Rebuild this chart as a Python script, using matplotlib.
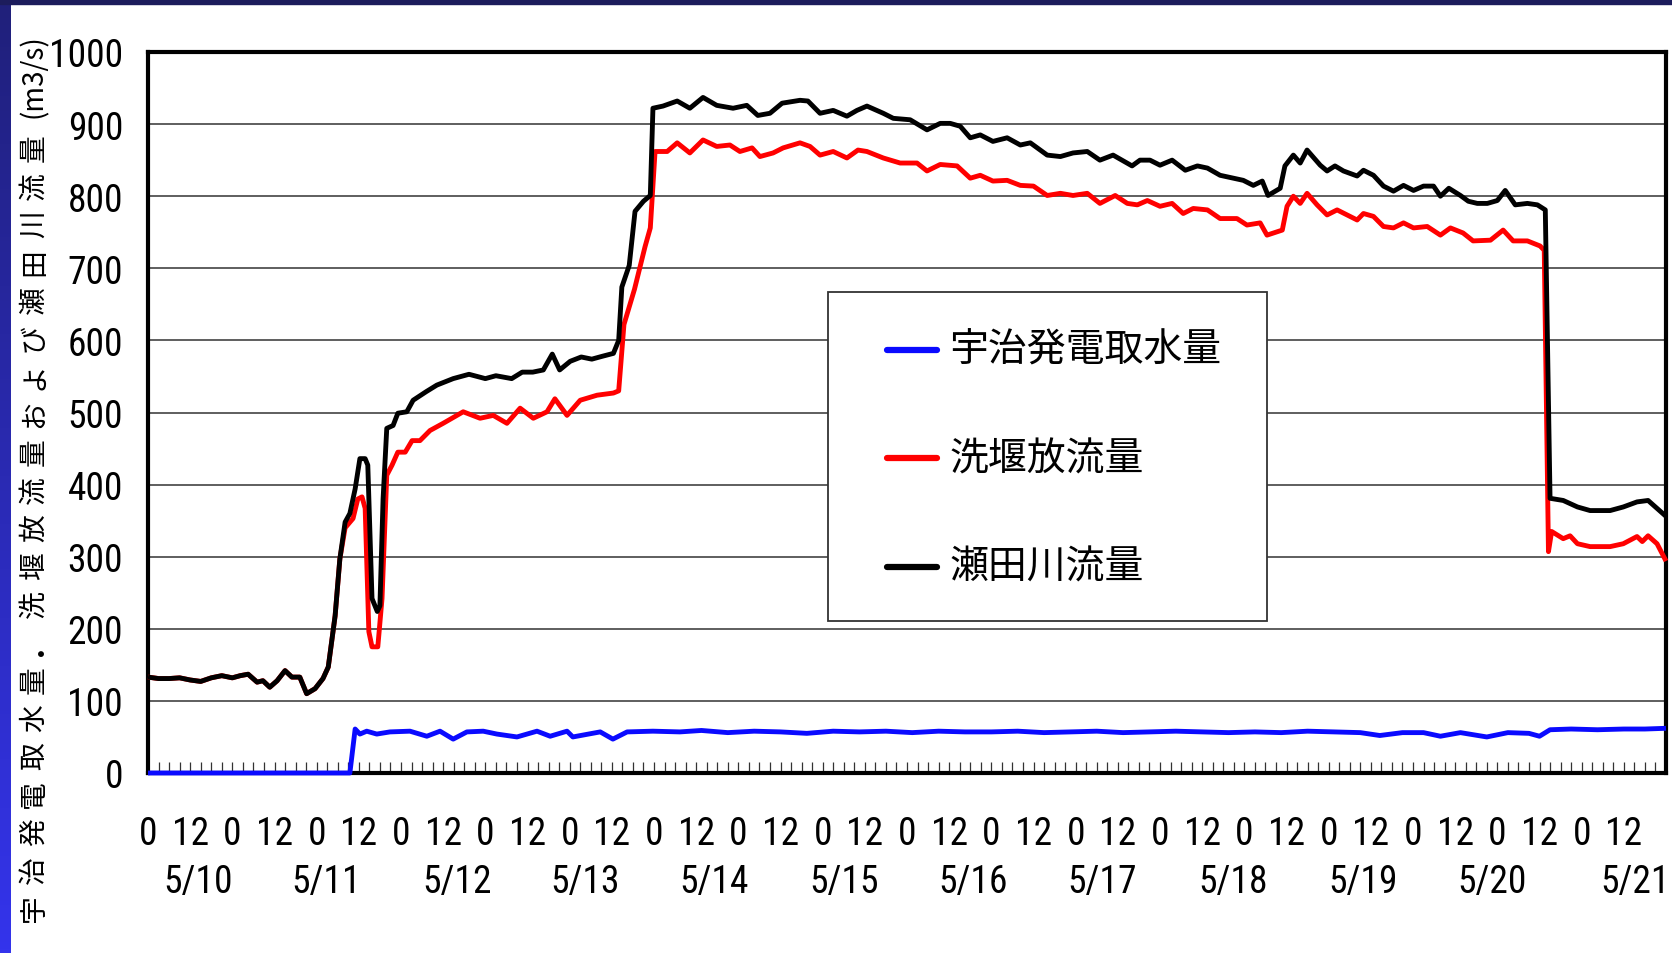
import matplotlib
matplotlib.use("Agg")
import matplotlib.pyplot as plt
import numpy as np
from matplotlib import font_manager
from matplotlib.colors import LinearSegmentedColormap
from matplotlib.lines import Line2D
from matplotlib.patches import Rectangle

# 経過時間 (5/10 0時から, h) と流量 (m3/s)
seta_h = [0, 2, 4, 6, 8, 10, 12, 14, 16, 17.5,
          19, 20.7, 21.8, 23.1, 24.5, 26, 27.3, 28.8, 30.1, 31.7,
          33.2, 34.2, 35.5, 36.4, 37.4, 38.3, 39.3, 40.2, 41.2, 41.7,
          42.5, 43.5, 44.0, 44.6, 45.3, 46.5, 47.4, 49.1, 50.3, 52.8,
          54.8, 57.9, 60.9, 64, 66, 69, 71, 73, 75, 76.7,
          78.1, 80.1, 82.2, 84.2, 86.2, 88.3, 89.3, 89.9, 91.3, 92.4,
          94.0, 95.3, 95.8, 97.7, 100.4, 102.8, 105.3, 107.9, 111.0, 113.6,
          115.7, 118.0, 120.3, 123.7, 125.2, 127.5, 130.0, 132.6, 134.5, 136.4,
          139.5, 141.4, 144.6, 147.8, 150.3, 152.2, 154.1, 156.0, 157.9, 160.3,
          163.0, 165.5, 167.4, 170.6, 173.1, 175.5, 178.2, 180.6, 183.1, 186.7,
          188.2, 190.1, 192.0, 194.3, 196.8, 199.1, 201.0, 203.4, 205.9, 207.8,
          209.7, 211.4, 212.5, 214.8, 215.7, 217.3, 218.6, 219.9, 222.4, 223.7,
          225.2, 226.8, 229.4, 230.6, 232.5, 234.4, 236.3, 238.2, 240.1, 242.0,
          243.9, 245.2, 246.8, 249.0, 250.5, 252.2, 254.1, 256.0, 257.5, 259.4,
          261.7, 263.6, 265.1, 266.0, 268.5, 271.2, 273.6, 277.4, 279.9, 282.5,
          284.6, 286.3, 288]
seta_q = [133, 131, 131, 132, 129, 127, 132, 135, 132, 135,
          137, 126, 128, 119, 128, 142, 133, 133, 110, 117,
          131, 147, 218, 297, 348, 360, 394, 436, 436, 427,
          242, 224, 232, 380, 478, 482, 499, 501, 517, 529,
          538, 547, 553, 547, 551, 547, 556, 556, 559, 581,
          559, 571, 577, 574, 578, 582, 600, 674, 704, 779,
          793, 801, 922, 925, 932, 922, 937, 926, 922, 926,
          912, 915, 929, 933, 932, 915, 919, 911, 919, 925,
          915, 908, 906, 892, 901, 901, 897, 881, 885, 876,
          881, 871, 874, 857, 855, 860, 862, 850, 857, 842,
          850, 850, 843, 850, 836, 842, 839, 829, 825, 822,
          815, 821, 801, 811, 842, 857, 846, 864, 843, 835,
          842, 835, 828, 836, 829, 814, 807, 815, 808, 814,
          814, 800, 811, 801, 793, 790, 790, 794, 808, 788,
          790, 788, 781, 381, 378, 369, 364, 364, 369, 376,
          378, 367, 356]

arai_h = [0, 2, 4, 6, 8, 10, 12, 14, 16, 17.5,
          19, 20.7, 21.8, 23.1, 24.5, 26, 27.3, 28.8, 30.1, 31.7,
          33.2, 34.2, 35.5, 36.4, 37.4, 38.9, 39.8, 40.6, 41.2, 41.9,
          42.5, 43.6, 44.4, 45.3, 46.3, 47.4, 48.8, 50.1, 51.6, 53.5,
          56.0, 59.8, 63.0, 65.5, 68.1, 70.6, 73.1, 75.7, 77.2, 79.5,
          82.0, 85.2, 88.3, 89.3, 90.3, 92.3, 94.3, 95.3, 96.2, 98.5,
          100.4, 102.8, 105.3, 107.9, 110.4, 112.3, 114.6, 116.1, 118.6, 120.5,
          123.7, 125.6, 127.5, 130.0, 132.6, 134.7, 136.4, 139.5, 142.7, 145.9,
          147.8, 150.3, 153.5, 156.0, 157.9, 160.3, 163.0, 165.5, 168.0, 170.6,
          173.1, 175.5, 178.2, 180.6, 183.5, 185.8, 187.7, 189.6, 192.0, 194.3,
          196.4, 198.3, 201.0, 203.4, 206.6, 208.5, 211.0, 212.3, 215.2, 216.1,
          217.3, 218.6, 219.9, 221.8, 223.7, 225.6, 227.5, 229.4, 230.6, 232.5,
          234.4, 236.3, 238.2, 240.1, 242.7, 245.2, 247.1, 249.5, 251.4, 254.7,
          257.1, 259.0, 261.7, 264.1, 264.9, 265.7, 266.3, 268.5, 269.8, 271.2,
          273.6, 277.4, 279.9, 282.5, 283.5, 284.6, 286.3, 288]
arai_q = [133, 131, 131, 132, 129, 127, 132, 135, 132, 135,
          137, 126, 128, 119, 128, 142, 133, 133, 110, 117,
          131, 147, 218, 297, 340, 353, 380, 383, 367, 196,
          175, 175, 242, 413, 427, 445, 445, 461, 461, 475,
          485, 501, 492, 496, 485, 506, 492, 501, 519, 496,
          517, 524, 527, 530, 622, 671, 730, 756, 862, 862,
          874, 860, 878, 869, 871, 862, 867, 855, 860, 867,
          874, 869, 857, 862, 853, 864, 862, 853, 846, 846,
          835, 844, 842, 825, 829, 821, 822, 815, 814, 801,
          804, 801, 804, 790, 801, 790, 788, 794, 786, 790,
          776, 783, 781, 769, 769, 760, 763, 746, 753, 786,
          800, 790, 804, 788, 774, 781, 774, 767, 776, 772,
          758, 756, 763, 756, 758, 746, 756, 749, 738, 739,
          753, 738, 738, 731, 725, 307, 335, 325, 329, 318,
          314, 314, 318, 328, 321, 329, 318, 294]

uji_h = [0, 38.3, 39.3, 40.2, 41.5, 43.4, 45.9, 49.7, 52.9, 55.4,
         57.9, 60.5, 63.6, 66.2, 70.0, 73.8, 76.3, 79.5, 80.6, 85.8,
         88.2, 90.9, 95.8, 100.9, 105, 110, 115, 120, 125, 130,
         135, 140, 145, 150, 155, 160, 165, 170, 175, 180,
         185, 190, 195, 200, 205, 210, 215, 220, 225, 230,
         233.7, 238, 242, 245.2, 249, 254, 258, 262, 264, 266,
         270, 275, 280, 284, 288]
uji_q = [0, 0, 61, 54, 58, 54, 57, 58, 51, 58,
         47, 57, 58, 54, 50, 58, 51, 58, 50, 57,
         47, 57, 58, 57, 59, 56, 58, 57, 55, 58,
         57, 58, 56, 58, 57, 57, 58, 56, 57, 58,
         56, 57, 58, 57, 56, 57, 56, 58, 57, 56,
         52, 56, 56, 51, 56, 50, 56, 55, 51, 60,
         61, 60, 61, 61, 62]

hour_pos = list(range(0, 288, 8))
hour_labels = ["0", "12"] * 18
date_labels = ["5/10", "5/11", "5/12", "5/13", "5/14", "5/15",
               "5/16", "5/17", "5/18", "5/19", "5/20", "5/21"]
date_pos = [9.5, 33.8, 58.6, 82.9, 107.4, 132.1, 156.6, 181.1, 205.9, 230.5, 255.0, 282.1]

series = [
    ("宇治発電取水量", uji_h, uji_q, "#0a0aff"),
    ("洗堰放流量", arai_h, arai_q, "#ff0000"),
    ("瀬田川流量", seta_h, seta_q, "#000000"),
]

ylabel_cjk = "宇治発電取水量・洗堰放流量および瀬田川流量"
ylabel_unit = "(m3/s)"

# 細いフォントがあれば使う
installed = {f.name for f in font_manager.fontManager.ttflist}
num_font, num_size = "Liberation Sans", 24
for name in ["Liberation Sans Narrow", "DejaVu Sans Condensed", "Roboto Condensed"]:
    if name in installed:
        num_font, num_size = name, 27
        break
plt.rcParams["font.family"] = [num_font, "DejaVu Sans"]
jp = ["Noto Sans CJK JP", "DejaVu Sans"]

W, H = 1672, 954
fig = plt.figure(figsize=(W / 100, H / 100), dpi=100)
fig.patch.set_facecolor("white")

# 枠の青い帯
band = fig.add_axes([0, 0, 11 / W, 1])
band.imshow(np.linspace(0, 1, 256).reshape(-1, 1), aspect="auto",
            cmap=LinearSegmentedColormap.from_list("band", ["#20207a", "#3434ec"]))
band.axis("off")
fig.add_artist(Rectangle((0, 1 - 5 / H), 1, 5 / H, transform=fig.transFigure,
                         color="#1c1c5c", zorder=5))

ax = fig.add_axes([148 / W, 1 - 774 / H, 1518 / W, 721 / H])
ax.set_xlim(0, 288)
ax.set_ylim(0, 1000)

for label, xs, ys, color in series:
    z = 4 if color == "#0a0aff" else 3
    ax.plot(xs, ys, color=color, lw=3.5, solid_joinstyle="round",
            solid_capstyle="butt", zorder=z, clip_on=False)

# 目盛り
ax.set_yticks(range(0, 1001, 100))
ax.yaxis.grid(True, color="#333333", lw=1.1)
ax.set_axisbelow(True)
ax.tick_params(axis="y", length=0, pad=18, labelsize=num_size)
ax.set_xticks(hour_pos)
ax.set_xticklabels(hour_labels)
ax.set_xticks(range(0, 289, 2), minor=True)
ax.tick_params(axis="x", which="both", direction="in", length=8, width=0.9,
               color="#333333", pad=30, labelsize=num_size)
for s in ax.spines.values():
    s.set_linewidth(3)
    s.set_color("black")

for d, p in zip(date_labels, date_pos):
    ax.text(p, -0.150, d, transform=ax.get_xaxis_transform(), ha="center",
            va="center", fontsize=num_size)

# 凡例
ax.add_patch(Rectangle((0.448, 0.211), 0.289, 0.456, transform=ax.transAxes,
                       facecolor="white", edgecolor="#333333", lw=1.3, zorder=6))
for i, (label, xs, ys, color) in enumerate(series):
    yc = 0.587 - i * 0.1505
    ax.add_line(Line2D([0.487, 0.520], [yc, yc], transform=ax.transAxes,
                       color=color, lw=4.5, solid_capstyle="round", zorder=7))
    ax.text(0.528, yc, label, transform=ax.transAxes, ha="left", va="center",
            fontsize=28, family=jp, zorder=7)

# 縦書きの軸ラベル (字間を広く)
y = 908
for ch in ylabel_cjk:
    fig.text(34 / W, 1 - y / H, ch, rotation=90, ha="center", va="center",
             fontsize=20, family=jp)
    y -= 38
fig.text(34 / W, 1 - 76 / H, ylabel_unit, rotation=90, ha="center", va="center",
         fontsize=20, family=jp)

fig.savefig("out.png", dpi=100)
